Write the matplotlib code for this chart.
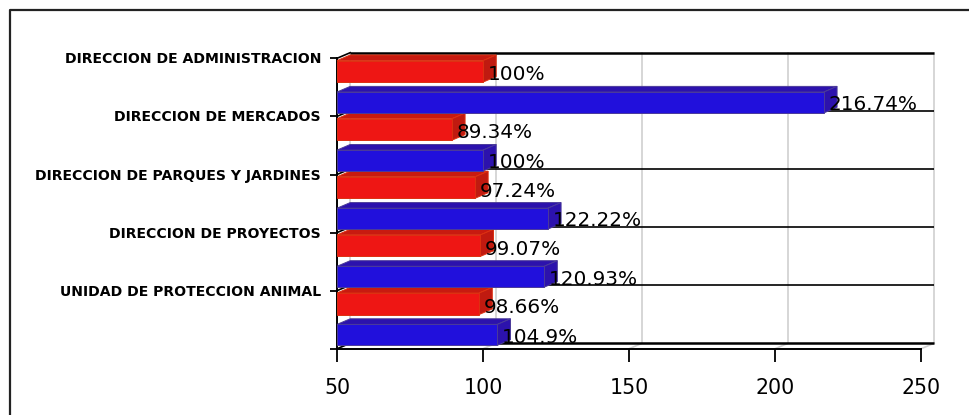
#!/usr/bin/env python
import matplotlib
matplotlib.use('Agg')
import matplotlib.pyplot as plt
from matplotlib.patches import Polygon, Rectangle
from matplotlib.transforms import ScaledTranslation

categories = ['DIRECCION DE ADMINISTRACION', 'DIRECCION DE MERCADOS',
              'DIRECCION DE PARQUES Y JARDINES', 'DIRECCION DE PROYECTOS',
              'UNIDAD DE PROTECCION ANIMAL']
red_values = [100, 89.34, 97.24, 99.07, 98.66]
blue_values = [216.74, 100, 122.22, 120.93, 104.9]
red_labels = ['100%', '89.34%', '97.24%', '99.07%', '98.66%']
blue_labels = ['216.74%', '100%', '122.22%', '120.93%', '104.9%']
x_ticks = [50, 100, 150, 200, 250]

W, H = 970, 415
XMIN, XMAX = 50, 250
BAND = 58.0
DX = 13.2 * (XMAX - XMIN) / 584.0   # depth of the fake 3d, x units
DY = 5.6 / BAND                     # depth of the fake 3d, y units
BACK = '#d0d0d0'


def bar3d(ax, y0, y1, value, front, top, side, edge):
    ax.add_patch(Polygon([(XMIN, y0), (XMIN + DX, y0 - DY), (value + DX, y0 - DY), (value, y0)],
                         fc=top, ec=edge, lw=0.7, clip_on=False, zorder=3))
    ax.add_patch(Polygon([(value, y0), (value + DX, y0 - DY), (value + DX, y1 - DY), (value, y1)],
                         fc=side, ec=edge, lw=0.7, clip_on=False, zorder=3))
    ax.add_patch(Rectangle((XMIN, y0), value - XMIN, y1 - y0,
                           fc=front, ec=edge, lw=0.7, clip_on=False, zorder=4))


fig = plt.figure(figsize=(W / 100, H / 100), dpi=100)
# frame only has left and top sides, it runs off the image on the other two
fig.add_artist(plt.Line2D([10.5 / W, 10.5 / W, 1], [0, 1 - 10.5 / H, 1 - 10.5 / H],
                          color='#222222', lw=1.6))

ax = fig.add_axes([337 / W, 1 - 348.8 / H, 584 / W, 290.5 / H])
ax.set_xlim(XMIN, XMAX)
ax.set_ylim(5, 0)
ax.patch.set_visible(False)
for s in ['top', 'right']:
    ax.spines[s].set_visible(False)
ax.spines['left'].set_linewidth(1.4)
ax.spines['bottom'].set_linewidth(1.4)

# back wall and floor
for v in x_ticks:
    ax.plot([v + DX, v + DX], [-DY, 5 - DY], color=BACK, lw=1.2, clip_on=False, zorder=1)
    ax.plot([v, v + DX], [5, 5 - DY], color=BACK, lw=1.2, clip_on=False, zorder=1)
for i in range(6):
    ax.plot([XMIN, XMIN + DX], [i, i - DY], color='black', lw=1.2, clip_on=False, zorder=2)
    ax.plot([XMIN + DX, XMAX + DX], [i - DY, i - DY], color='black',
            lw=1.8 if i in (0, 5) else 1.2, clip_on=False, zorder=2, solid_capstyle='butt')

for i in range(len(categories)):
    bar3d(ax, i + 0.04, i + 0.41, red_values[i], '#ee1614', '#c81a10', '#c01a10', '#dd3010')
    bar3d(ax, i + 0.58, i + 0.94, blue_values[i], '#2110dc', '#2c12ad', '#2c12ad', '#4a3a9a')
    ax.text(red_values[i] + 1.6, i + 0.38, red_labels[i], fontsize=14.4, va='baseline', ha='left', zorder=6)
    ax.text(blue_values[i] + 1.6, i + 0.895, blue_labels[i], fontsize=14.4, va='baseline', ha='left', zorder=6)

ax.set_xticks(x_ticks)
ax.set_yticks(range(6))
ax.set_yticklabels(categories + [''], fontsize=10.1, fontweight='bold', va='center')
ax.tick_params(axis='x', labelsize=14.8, length=9, width=1.3, pad=12)
ax.tick_params(axis='y', length=5, width=1.3, pad=6.5)
# nudge the category labels one pixel down
nudge = ScaledTranslation(0, -1 / 100, fig.dpi_scale_trans)
for lab in ax.get_yticklabels():
    lab.set_transform(lab.get_transform() + nudge)

fig.savefig('out.png', dpi=100)
